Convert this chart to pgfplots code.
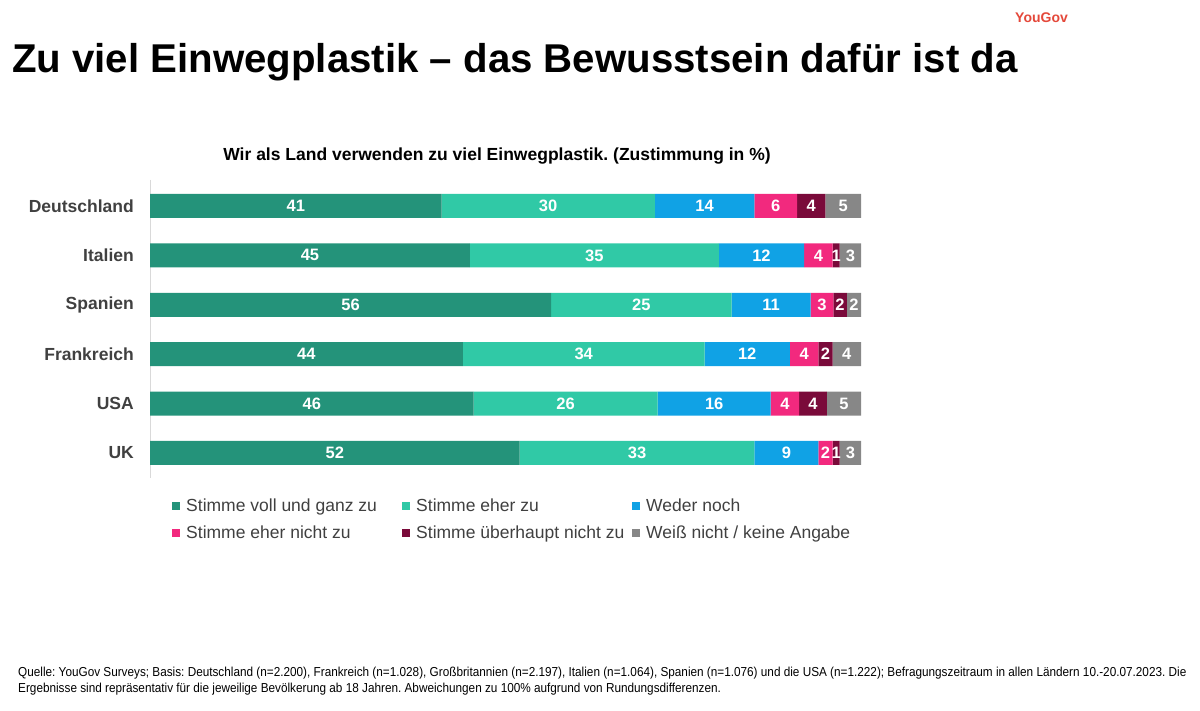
\documentclass[border=0pt]{standalone}
\usepackage{pgfplots}
\pgfplotsset{compat=1.18}
\usepackage{fontspec}
\setmainfont{Liberation Sans}
\newfontfamily\narrowfont[FakeStretch=0.905]{Liberation Sans}
\definecolor{cA}{HTML}{24937A}
\definecolor{cB}{HTML}{30C9A6}
\definecolor{cC}{HTML}{10A2E5}
\definecolor{cD}{HTML}{F2297E}
\definecolor{cE}{HTML}{7A0A3A}
\definecolor{cF}{HTML}{878787}
\definecolor{txt}{HTML}{404040}
\definecolor{yg}{HTML}{E4483A}
\frenchspacing
\begin{document}
\begin{tikzpicture}
\path[use as bounding box] (0pt,0pt) rectangle (1200pt,711pt);
\node[anchor=base west, inner sep=0pt, font=\bfseries\fontsize{40.2}{40.2}\selectfont] at (12pt,638pt) {Zu viel Einwegplastik – das Bewusstsein dafür ist da};
\node[anchor=base, inner sep=0pt, font=\bfseries\fontsize{17.5}{17.5}\selectfont] at (497pt,550pt) {Wir als Land verwenden zu viel Einwegplastik. (Zustimmung in \%)};
\node[anchor=base west, inner sep=0pt, text=yg, font=\bfseries\fontsize{14}{14}\selectfont] at (1015pt,688pt) {YouGov};
\node[anchor=base west, inner sep=0pt, font=\narrowfont\fontsize{13}{13}\selectfont] at (18pt,34pt) {Quelle: YouGov Surveys; Basis: Deutschland (n=2.200), Frankreich (n=1.028), Großbritannien (n=2.197), Italien (n=1.064), Spanien (n=1.076) und die USA (n=1.222); Befragungszeitraum in allen Ländern 10.-20.07.2023. Die};
\node[anchor=base west, inner sep=0pt, font=\narrowfont\fontsize{13}{13}\selectfont] at (18pt,18pt) {Ergebnisse sind repräsentativ für die jeweilige Bevölkerung ab 18 Jahren. Abweichungen zu 100\% aufgrund von Rundungsdifferenzen.};
\begin{axis}[
  at={(505.5pt,382pt)}, anchor=center,
  scale only axis, width=711pt, height=298pt,
  xbar stacked, bar width=24pt,
  xmin=0, xmax=100,
  ymin=-0.526, ymax=5.506, y dir=reverse,
  ytick={0,1,2,3,4,5},
  yticklabels={Deutschland,Italien,Spanien,Frankreich,USA,UK},
  axis x line=none, axis y line*=left,
  y axis line style={draw=black!15, -},
  ytick style={draw=none},
  yticklabel style={font=\bfseries\fontsize{17.5}{17.5}\selectfont, text=txt, inner sep=0pt, xshift=-16pt},
  point meta=explicit symbolic,
  nodes near coords,
  every node near coord/.append style={font=\bfseries\fontsize{16.5}{16.5}\selectfont, text=white},
  legend columns=3,
  legend cell align=left,
  legend style={at={(0.031,-0.064)}, anchor=north west, draw=none, fill=none, inner sep=0pt,
    font=\fontsize{17.5}{17.5}\selectfont, text=txt, row sep=8pt,
    /tikz/every odd column/.append style={column sep=4pt}},
  legend image code/.code={\fill[#1] (0pt,-4pt) rectangle (8pt,4pt);},
]
\addplot[fill=cA, draw=none] table[x=v, y=y, meta=l] {
y v l
0 41 41
1 45 45
2 56.4 56
3 44 44
4 45.5 46
5 52 52
};
\addlegendentry{\makebox[214pt][l]{Stimme voll und ganz zu}}
\addplot[fill=cB, draw=none] table[x=v, y=y, meta=l] {
y v l
0 30 30
1 35 35
2 25.4 25
3 34 34
4 25.9 26
5 33 33
};
\addlegendentry{\makebox[214pt][l]{Stimme eher zu}}
\addplot[fill=cC, draw=none] table[x=v, y=y, meta=l] {
y v l
0 14 14
1 12 12
2 11.1 11
3 12 12
4 15.9 16
5 9 9
};
\addlegendentry{Weder noch}
\addplot[fill=cD, draw=none] table[x=v, y=y, meta=l] {
y v l
0 6 6
1 4 4
2 3.2 3
3 4 4
4 4.0 4
5 2 2
};
\addlegendentry{\makebox[214pt][l]{Stimme eher nicht zu}}
\addplot[fill=cE, draw=none] table[x=v, y=y, meta=l] {
y v l
0 4 4
1 1 1
2 1.9 2
3 2 2
4 3.9 4
5 1 1
};
\addlegendentry{\makebox[214pt][l]{Stimme überhaupt nicht zu}}
\addplot[fill=cF, draw=none] table[x=v, y=y, meta=l] {
y v l
0 5 5
1 3 3
2 2.0 2
3 4 4
4 4.8 5
5 3 3
};
\addlegendentry{Weiß nicht / keine Angabe}
\end{axis}
\end{tikzpicture}
\end{document}
